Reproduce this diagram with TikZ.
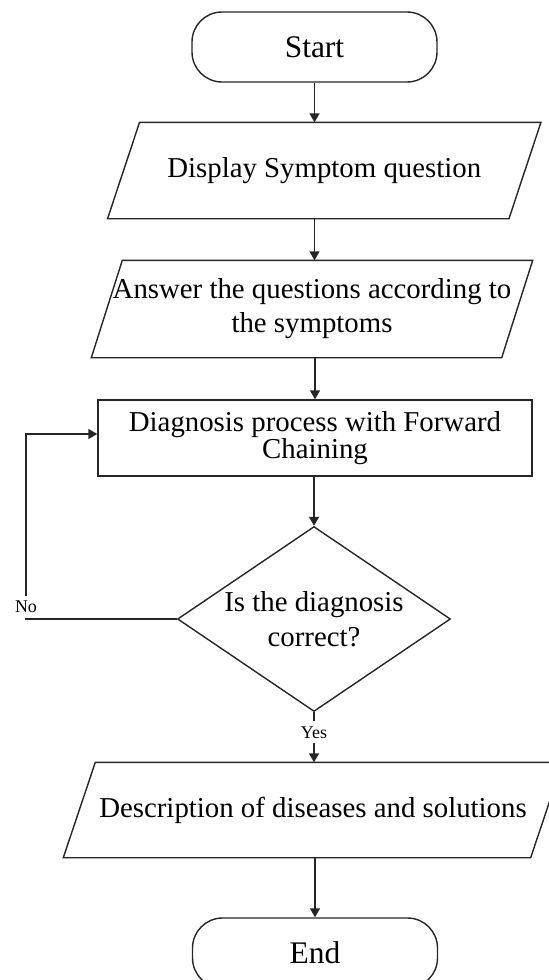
\documentclass[tikz,border=0pt]{standalone}
\usepackage{fontspec}
\setmainfont{Liberation Serif}
\usetikzlibrary{arrows.meta,calc,shapes.geometric}
\def\slantbox(#1)(#2){\draw[boxline] ($(#1.north west)+(#2,0)$) -- ($(#1.north east)+(#2,0)$) -- ($(#1.south east)-(#2,0)$) -- ($(#1.south west)-(#2,0)$) -- cycle;}

\tikzset{
	boxline/.style={draw=black!85, line width=0.8pt},
	base/.style={boxline, inner sep=0pt, align=center, font=\fontsize{16.4}{19.4}\selectfont},
	term/.style={base, rectangle, rounded corners=0.6cm, minimum width=4.9cm, minimum height=1.4cm, font=\fontsize{17.9}{21}\selectfont},
	io/.style={base, draw=none, rectangle},
	proc/.style={base, rectangle, minimum width=8.68cm, minimum height=1.52cm},
	decision/.style={base, diamond, aspect=1.48, minimum width=5.46cm, minimum height=3.7cm},
	arr/.style={boxline, -{Triangle[width=2mm,length=1.8mm]}},
	lbl/.style={fill=white, inner sep=3pt, font=\fontsize{10.2}{12}\selectfont},
}

\begin{document}
\begin{tikzpicture}
		%%%%% START %%%%%
		\useasboundingbox (0,0) rectangle (10.98,-19.6);
		
		\node[term] (start) at (6.29,-0.94) {Start};
		\node[io, minimum width=8cm, minimum height=1.9cm] (disp) at (6.485,-3.41) {Display Symptom question};
		\node[io, minimum width=8.18cm, minimum height=1.92cm] (ans) at (6.24,-6.18) {Answer the questions according to\\the symptoms};
		\node[proc, font=\fontsize{16.4}{15.4}\selectfont] (diag) at (6.3,-8.76) {Diagnosis process with Forward\\Chaining};
		\node[decision, font=\fontsize{16.4}{19.9}\selectfont] (check) at (6.28,-12.38) {Is the diagnosis\\correct?};
		\node[io, minimum width=9.32cm, minimum height=1.88cm] (desc) at (6.26,-16.2) {Description of diseases and solutions};
		\node[term] (end) at (6.3,-19.06) {End};
		
		\slantbox(disp)(0.32)
		\slantbox(ans)(0.31)
		\slantbox(desc)(0.32)
		
		\draw[arr] (start.south) -- (start.south |- disp.north);
		\draw[arr] (disp.south -| start.south) -- (start.south |- ans.north);
		\draw[arr] (ans.south -| diag.north) -- (diag.north);
		\draw[arr] (diag.south -| check.north) -- (check.north);
		
		% no: back to the diagnosis
		\coordinate (nocorner) at (0.52,-12.38);
		\coordinate (notop) at (0.52,-8.68);
		\draw[arr] (check.west) -- (nocorner) node[lbl, above] (no) {No} -- (notop) -- (notop -| diag.west);
		
		% yes
		\draw[arr] (check.south) -- node[lbl, pos=0.4] (yes) {Yes} (check.south |- desc.north);
		\draw[arr] (desc.south -| end.north) -- (end.north);
		
		%%%%% END %%%%%
	\end{tikzpicture}
\end{document}
